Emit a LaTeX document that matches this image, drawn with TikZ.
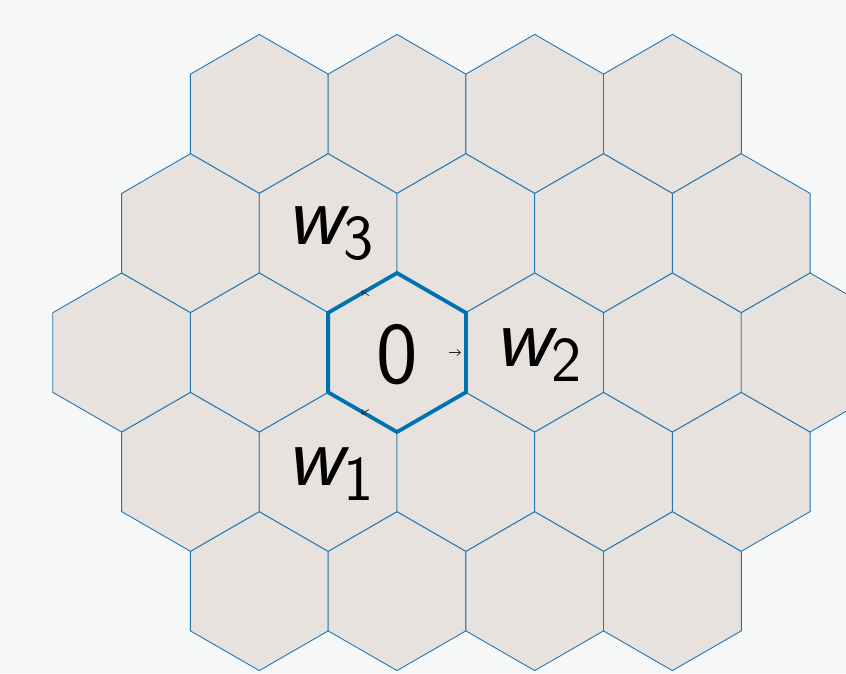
\documentclass[tikz,border=0pt]{standalone}
\usetikzlibrary{arrows.meta}
\definecolor{bgcol}{RGB}{246,248,248}
\definecolor{cellfill}{RGB}{232,226,222}
\definecolor{cellline}{RGB}{31,119,180}
\definecolor{thickline}{RGB}{0,114,178}
\tikzset{
  hexcell/.style={fill=cellfill,draw=cellline,line width=0.9pt,line join=miter},
  hexmain/.style={draw=thickline,line width=3.8pt,line join=miter},
  biglabel/.style={inner sep=0pt,font=\sffamily\fontsize{88}{88}\selectfont,text=black},
  tinyarrow/.style={-{Straight Barb[length=3.5pt,width=6pt]},line width=0.7pt,draw=black!85}
}
\newcommand{\wlab}[1]{\textit{w}\kern-0.06em\raisebox{-0.17em}{\upshape\fontsize{64}{64}\selectfont #1}}
\newcommand{\hexpath}[3][hexcell]{%
  \draw[#1] (#2+68.9,#3-39.75) -- (#2,#3-79.5) -- (#2-68.9,#3-39.75) -- (#2-68.9,#3+39.75) -- (#2,#3+79.5) -- (#2+68.9,#3+39.75) -- cycle;}
\begin{document}
\begin{tikzpicture}[x=1pt,y=-1pt]
\useasboundingbox (0,0) rectangle (846,673);
\fill[bgcol] (0,0) rectangle (846,673);
\begin{scope}
\clip (0,0) rectangle (846,673);
% row -2 and +2
\foreach \cx in {259.3,397,534.7,672.4}{
  \hexpath{\cx}{113.9}
  \hexpath{\cx}{591.1}
}
% row -1 and +1
\foreach \cx in {190.45,328.15,465.85,603.55,741.25}{
  \hexpath{\cx}{233.2}
  \hexpath{\cx}{471.8}
}
% row 0
\foreach \cx in {121.6,259.3,397,534.7,672.4,810.1}{
  \hexpath{\cx}{352.5}
}
\hexpath[hexmain]{397}{352.5}
\end{scope}
\coordinate (a0) at (449,352.5);
\coordinate (a1) at (461,352.5);
\coordinate (b0) at (369,295.5);
\coordinate (b1) at (361,291);
\coordinate (c0) at (369,409.5);
\coordinate (c1) at (361,414);
\draw[tinyarrow] (a0) -- (a1);
\draw[tinyarrow] (b0) -- (b1);
\draw[tinyarrow] (c0) -- (c1);
\node[biglabel] (zero) at (397,355) {0};
\node[biglabel] (w3) at (330,234) {\wlab{3}};
\node[biglabel] (w2) at (538,355) {\wlab{2}};
\node[biglabel] (w1) at (330,474) {\wlab{1}};
\end{tikzpicture}
\end{document}
